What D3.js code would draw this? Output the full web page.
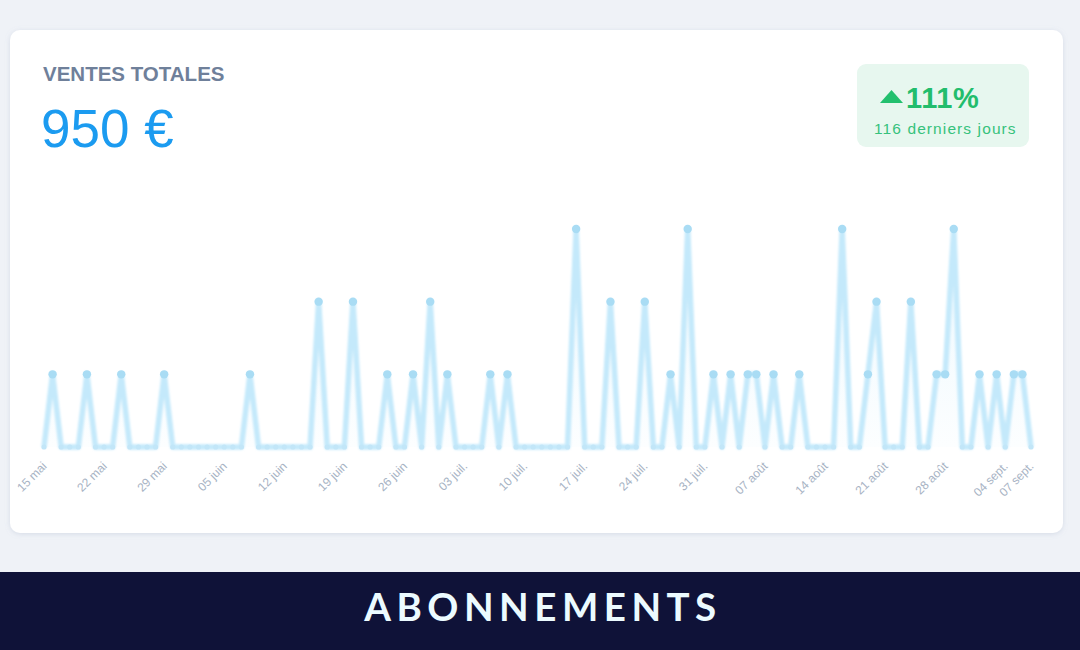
<!DOCTYPE html>
<html><head><meta charset="utf-8">
<script src="https://cdn.jsdelivr.net/npm/d3@7"></script>
<style>
html,body{margin:0;padding:0;background:#eff2f7;}
svg{display:block;}
</style></head>
<body>
<svg id="c" width="1080" height="650"></svg>
<script>
// ---- data ----
const dayCount = 116;
const level1Days = [1,5,9,14,24,40,43,47,52,54,73,78,80,82,83,85,88,96,104,105,109,111,113,114];
const level2Days = [32,36,45,66,70,97,101];
const level3Days = [62,75,93,106];
const unitValue = [0, 19, 38, 57];
const tickLabels = ["15 mai","22 mai","29 mai","05 juin","12 juin","19 juin","26 juin","03 juil.","10 juil.","17 juil.","24 juil.","31 juil.","07 août","14 août","21 août","28 août","04 sept.","07 sept."];
const tickDays = [0,7,14,21,28,35,42,49,56,63,70,77,84,91,98,105,112,115];
const title = "VENTES TOTALES";
const total = "950 €";
const badgePct = "111%";
const badgeSub = "116 derniers jours";
const banner = "ABONNEMENTS";

const values = [];
for (let i = 0; i < dayCount; i++) {
  let lv = 0;
  if (level1Days.includes(i)) lv = 1;
  if (level2Days.includes(i)) lv = 2;
  if (level3Days.includes(i)) lv = 3;
  values.push({i, v: unitValue[lv]});
}

const FONT = "Liberation Sans, Arial, Helvetica, sans-serif";
const svg = d3.select("#c");
const defs = svg.append("defs");
const sh = defs.append("filter").attr("id","sh").attr("x","-5%").attr("y","-5%").attr("width","110%").attr("height","115%");
sh.append("feDropShadow").attr("dx",0).attr("dy",1).attr("stdDeviation",2.5).attr("flood-color","#8a99b5").attr("flood-opacity",0.25);
const bl = defs.append("filter").attr("id","bl");
bl.append("feGaussianBlur").attr("stdDeviation",0.8);
const grad = defs.append("linearGradient").attr("id","ag").attr("x1",0).attr("y1",0).attr("x2",0).attr("y2",1);
grad.append("stop").attr("offset","0%").attr("stop-color","#c8ebfc").attr("stop-opacity",0.35);
grad.append("stop").attr("offset","100%").attr("stop-color","#c8ebfc").attr("stop-opacity",0.05);

// card
svg.append("rect").attr("x",10).attr("y",30).attr("width",1053).attr("height",503).attr("rx",10)
  .attr("fill","#fff").attr("filter","url(#sh)");

svg.append("text").attr("x",43).attr("y",81).text(title)
  .attr("font-family",FONT).attr("font-weight","bold")
  .attr("font-size",20.5).attr("fill","#6f809a");
svg.append("text").attr("x",41).attr("y",147).text(total)
  .attr("font-family",FONT)
  .attr("font-size",53).attr("fill","#1b9bf0");

// badge
svg.append("rect").attr("x",857).attr("y",64).attr("width",172).attr("height",83).attr("rx",9).attr("fill","#e7f7ef");
svg.append("path").attr("d","M880,103 L891.5,90 L903,103 Z").attr("fill","#22c06e");
svg.append("text").attr("x",906).attr("y",108).text(badgePct)
  .attr("font-family",FONT).attr("font-weight","bold")
  .attr("font-size",29).attr("letter-spacing",0.6).attr("fill","#22bd6c");
svg.append("text").attr("x",874).attr("y",134).text(badgeSub)
  .attr("font-family",FONT)
  .attr("font-size",15.5).attr("letter-spacing",1.1).attr("fill","#36c27c");

// chart
const x = d3.scaleLinear().domain([0, dayCount-1]).range([44, 1031]);
const y = d3.scaleLinear().domain([0, 57]).range([447, 229]);

const g = svg.append("g");
g.append("path").datum(values)
  .attr("d", d3.area().x(d=>x(d.i)).y0(y(0)).y1(d=>y(d.v)))
  .attr("fill","url(#ag)");
g.append("path").datum(values)
  .attr("d", d3.line().x(d=>x(d.i)).y(d=>y(d.v)))
  .attr("fill","none").attr("stroke","#c4e9fb").attr("stroke-width",5.5)
  .attr("stroke-linejoin","round").attr("filter","url(#bl)");
g.selectAll("circle").data(values).enter().append("circle")
  .attr("cx",d=>x(d.i)).attr("cy",d=>y(d.v))
  .attr("r",d=>d.v>0?4.2:2.6)
  .attr("fill",d=>d.v>0?"#a9dcf4":"#c2e6f8");

// axis
const xAxis = d3.axisBottom(x).tickValues(tickDays).tickFormat((d,k)=>tickLabels[k]).tickSize(0).tickPadding(0);
const ax = svg.append("g").attr("transform","translate(0,458)").call(xAxis);
ax.select(".domain").remove();
ax.selectAll("text")
  .attr("font-family",FONT).attr("font-size",12)
  .attr("fill","#a7b3c4")
  .attr("text-anchor","end").attr("y",0).attr("dy","0.35em")
  .attr("transform","translate(0,6) rotate(-45)");

// banner
svg.append("rect").attr("x",0).attr("y",572).attr("width",1080).attr("height",78).attr("fill","#0f1238");
svg.append("text").attr("x",543).attr("y",621).attr("text-anchor","middle").text(banner)
  .attr("font-family","Lato, sans-serif").attr("font-weight","bold")
  .attr("font-size",38.5).attr("letter-spacing",5.5).attr("fill","#ecfbff");
</script>
</body></html>
